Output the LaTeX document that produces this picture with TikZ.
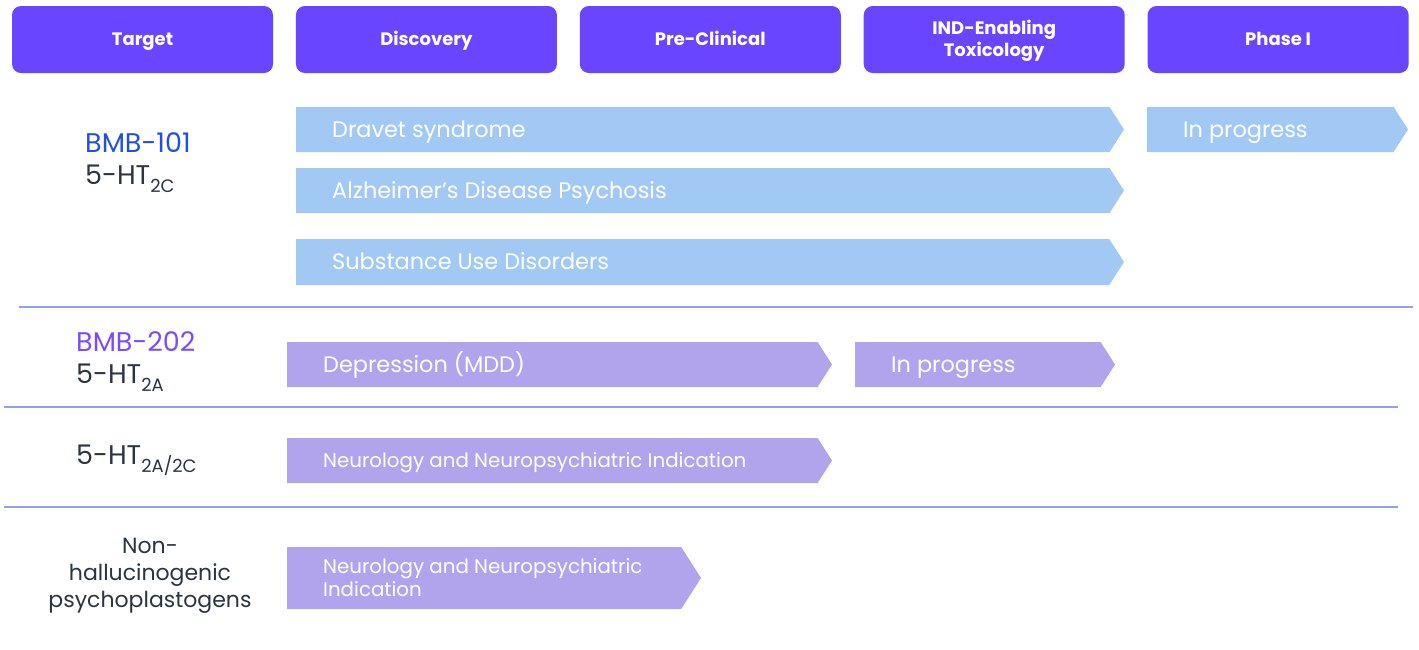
\documentclass[tikz,border=0pt]{standalone}
\usepackage{fontspec}
\setmainfont{Poppins}
\usetikzlibrary{positioning}
\definecolor{phasepurple}{HTML}{6A45FF}
\definecolor{barblue}{HTML}{A1C9F4}
\definecolor{barpurple}{HTML}{B1A3EC}
\definecolor{rulecol}{HTML}{8EA2F0}
\definecolor{labeltext}{HTML}{2B3444}
\definecolor{bmbblue}{HTML}{1F50E0}
\definecolor{bmbpurple}{HTML}{7A4CFF}
\tikzset{
    %Define style for phase headers
    phase/.style={
           rectangle,
           rounded corners=9pt,
           fill=phasepurple,
           text=white,
           minimum width=261pt,
           minimum height=67pt,
           inner sep=0pt,
           text height=12.2pt,
           text depth=0pt,
           align=center,
           font=\fontsize{18}{22}\selectfont\bfseries},
    % Define style for text on the bars
    bartext/.style={
           text=white,
           inner sep=0pt,
           text height=15.7pt,
           text depth=0pt,
           align=left,
           font=\fontsize{22.4}{27}\selectfont},
    smalltext/.style={
           bartext,
           text height=13.9pt,
           font=\fontsize{19.8}{22.5}\selectfont},
    % Define style for target labels
    drug/.style={
           inner sep=0pt,
           anchor=west,
           text=labeltext,
           font=\fontsize{27}{29}\selectfont},
    % Define style for row separators
    rowline/.style={
           draw=rulecol,
           line width=1.2pt}
}
% bar with a pointed end: name, left, tip, top, bottom, colour
\newcommand{\stagebar}[6]{%
  \fill[#6] (#2,#4) -- ({#3-0.32*(#5-#4)},#4) -- (#3,{(#4+#5)/2})
     -- ({#3-0.32*(#5-#4)},#5) -- (#2,#5) -- cycle;
  \coordinate (#1) at (#2,{(#4+#5)/2});}
\newcommand{\subsc}[1]{\raisebox{-0.3em}{\fontsize{18}{18}\selectfont #1}}

\begin{document}
\begin{tikzpicture}[x=1pt,y=-1pt]
\useasboundingbox (0,0) rectangle (1419,649);
\node [phase] (target) at (142.5,39.5) {Target};
\node [phase,right=22.5pt of target] (discovery) {Discovery};
\node [phase,right=22.5pt of discovery] (preclinical) {Pre-Clinical};
\node [phase,right=22.5pt of preclinical,text height=34.2pt] (ind) {IND-Enabling\\Toxicology};
\node [phase,right=22.5pt of ind] (phaseone) {Phase I};
\stagebar{dravet}{296}{1124}{107}{152}{barblue}
\stagebar{dravetone}{1147}{1408}{107}{152}{barblue}
\stagebar{alzheimer}{296}{1124}{168}{213}{barblue}
\stagebar{substance}{296}{1124}{239}{285}{barblue}
\stagebar{depression}{287}{832}{342}{387}{barpurple}
\stagebar{depressionind}{855}{1115}{342}{387}{barpurple}
\stagebar{neuro}{287}{832}{438}{483}{barpurple}
\stagebar{plasto}{287}{701}{547}{609}{barpurple}
\node [bartext,right=36pt of dravet] (dravettxt) {Dravet syndrome};
\node [bartext,right=36pt of dravetone] (dravetonetxt) {In progress};
\node [bartext,right=36pt of alzheimer] (alzheimertxt) {Alzheimer’s Disease Psychosis};
\node [bartext,right=36pt of substance] (substancetxt) {Substance Use Disorders};
\node [bartext,right=36pt of depression] (depressiontxt) {Depression (MDD)};
\node [bartext,right=36pt of depressionind] (depressionindtxt) {In progress};
\node [smalltext,right=36pt of neuro] (neurotxt) {Neurology and Neuropsychiatric Indication};
\node [smalltext,right=36pt of plasto,text height=36.4pt] (plastotxt) {Neurology and Neuropsychiatric\\Indication};
\node [drug,text=bmbblue] (bmbone) at (85,143) {BMB-101};
\node [drug] (htone) at (85,179) {5-HT\subsc{2C}};
\node [drug,text=bmbpurple] (bmbtwo) at (76,342) {BMB-202};
\node [drug] (httwo) at (76,378) {5-HT\subsc{2A}};
\node [drug] (htboth) at (76,460) {5-HT\subsc{2A/2C}};
\node [drug,anchor=center,align=center,text height=69pt,text depth=0pt,
       font=\fontsize{22}{26.8}\selectfont] (nonhall) at (150,573) {Non-\\hallucinogenic\\psychoplastogens};
\draw [rowline] (19,307) -- (1413,307);
\draw [rowline] (4,407) -- (1398,407);
\draw [rowline] (4,507) -- (1398,507);
\end{tikzpicture}
\end{document}
